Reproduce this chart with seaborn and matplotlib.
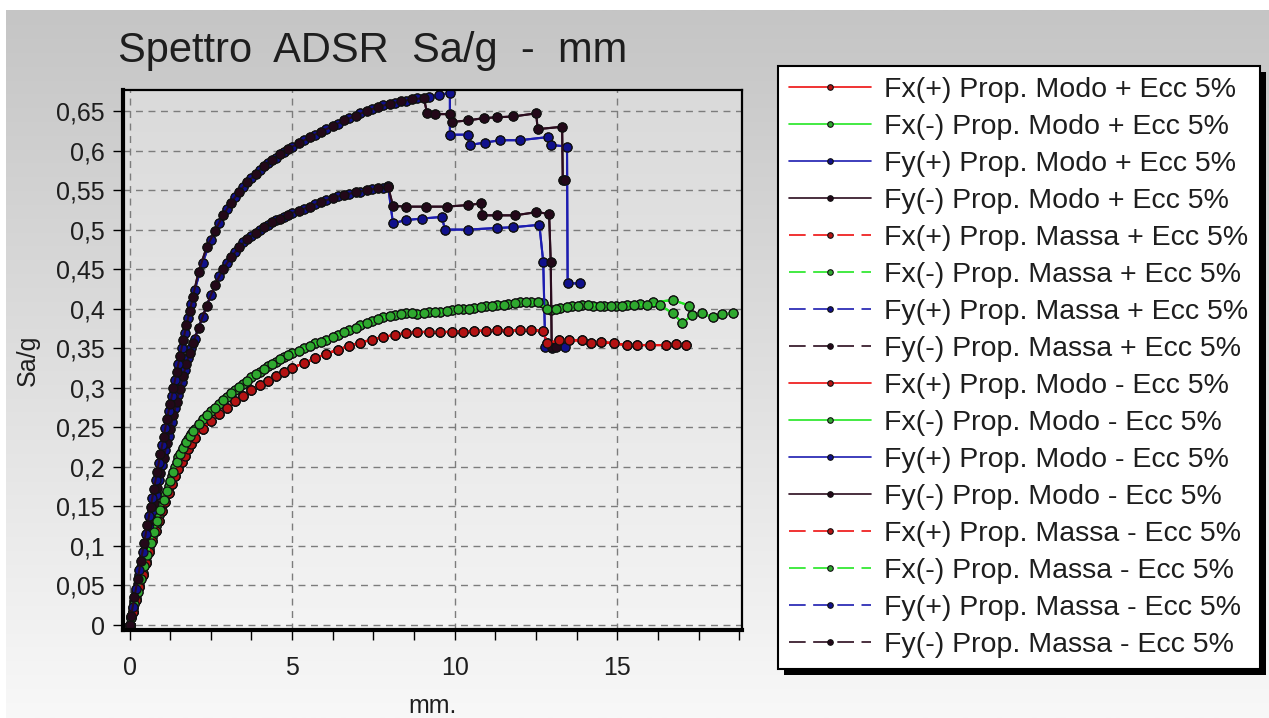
import numpy as np
import pandas as pd
import matplotlib
matplotlib.use("Agg")
import matplotlib.pyplot as plt
import seaborn as sns
from matplotlib.ticker import MultipleLocator, FixedLocator, FuncFormatter
from matplotlib.patches import Rectangle
from matplotlib.lines import Line2D
from matplotlib.colors import LinearSegmentedColormap

# ---------------- data ----------------
TITLE = "Spettro  ADSR  Sa/g  -  mm"
X_LABEL = "mm."
Y_LABEL = "Sa/g"
X_TICKS = [0, 5, 10, 15]
Y_TICKS = [0, 0.05, 0.1, 0.15, 0.2, 0.25, 0.3, 0.35, 0.4, 0.45, 0.5, 0.55, 0.6, 0.65]

# Fx(+) curve (red)
FX_POS_X = [0, 0.1, 0.2, 0.3, 0.4, 0.5, 0.6, 0.7, 0.8, 0.9, 1.0, 1.1, 1.2, 1.3, 1.4, 1.5, 1.6, 1.7, 1.8, 1.9, 2.0,
            2.25, 2.5, 2.75, 3.0, 3.25, 3.5, 3.75, 4.0, 4.25, 4.5, 4.75, 5.0, 5.35, 5.7, 6.05, 6.4, 6.75, 7.1, 7.45,
            7.8, 8.15, 8.5, 8.85, 9.2, 9.55, 9.9, 10.25, 10.6, 10.95, 11.3, 11.65, 12.0, 12.35, 12.7, 12.85, 13.2,
            13.5, 13.9, 14.2, 14.5, 14.9, 15.3, 15.6, 16.0, 16.5, 16.8, 17.1]
FX_POS_Y = [0, 0.016, 0.032, 0.048, 0.063, 0.078, 0.092, 0.106, 0.119, 0.132, 0.144, 0.156, 0.167, 0.178, 0.188,
            0.197, 0.206, 0.214, 0.222, 0.229, 0.236, 0.248, 0.258, 0.267, 0.275, 0.283, 0.290, 0.297, 0.303, 0.309,
            0.315, 0.320, 0.325, 0.331, 0.337, 0.343, 0.348, 0.353, 0.357, 0.361, 0.364, 0.367, 0.369, 0.370, 0.371,
            0.370, 0.371, 0.371, 0.372, 0.372, 0.373, 0.372, 0.373, 0.373, 0.372, 0.356, 0.360, 0.360, 0.360, 0.357,
            0.358, 0.356, 0.354, 0.354, 0.354, 0.354, 0.355, 0.354]

# Fx(-) curve (green), Modo variant
FX_NEG_MODO_X = [0, 0.1, 0.2, 0.3, 0.4, 0.5, 0.6, 0.7, 0.8, 0.9, 1.0, 1.1, 1.2, 1.3, 1.4, 1.5, 1.6, 1.7, 1.8, 1.9,
                 2.0, 2.25, 2.5, 2.75, 3.0, 3.25, 3.5, 3.75, 4.0, 4.25, 4.5, 4.75, 5.0, 5.35, 5.7, 6.05, 6.4, 6.75,
                 7.1, 7.45, 7.8, 8.15, 8.5, 8.85, 9.2, 9.55, 9.9, 10.25, 10.6, 10.95, 11.3, 11.65, 12.0, 12.35, 12.7,
                 12.95, 13.25, 13.6, 13.9, 14.25, 14.6, 14.95, 15.3, 15.7, 16.1, 16.7, 17.2]
FX_NEG_MODO_Y = [0, 0.017, 0.034, 0.050, 0.066, 0.081, 0.096, 0.111, 0.125, 0.139, 0.152, 0.164, 0.176, 0.188,
                 0.200, 0.212, 0.220, 0.228, 0.235, 0.242, 0.248, 0.260, 0.270, 0.279, 0.288, 0.297, 0.305, 0.313,
                 0.320, 0.327, 0.333, 0.339, 0.344, 0.350, 0.356, 0.361, 0.367, 0.373, 0.379, 0.384, 0.389, 0.392,
                 0.394, 0.393, 0.396, 0.396, 0.398, 0.399, 0.401, 0.404, 0.405, 0.406, 0.408, 0.409, 0.407, 0.398,
                 0.401, 0.403, 0.405, 0.404, 0.403, 0.404, 0.405, 0.406, 0.408, 0.411, 0.404]

# Fx(-) curve (green), Massa variant
FX_NEG_MASSA_X = [0, 0.05, 0.15, 0.25, 0.35, 0.45, 0.55, 0.65, 0.75, 0.85, 0.95, 1.05, 1.15, 1.25, 1.35, 1.45,
                  1.55, 1.65, 1.75, 1.85, 1.95, 2.125, 2.375, 2.625, 2.875, 3.125, 3.375, 3.625, 3.875, 4.125,
                  4.375, 4.625, 4.875, 5.2, 5.55, 5.9, 6.25, 6.6, 6.95, 7.3, 7.65, 8.0, 8.35, 8.7, 9.05, 9.4, 9.75,
                  10.1, 10.45, 10.8, 11.15, 11.5, 11.85, 12.2, 12.55, 12.85, 13.1, 13.45, 13.8, 14.1, 14.45, 14.8,
                  15.15, 15.5, 15.9, 16.3, 16.7, 17.0, 17.3, 17.6, 17.95, 18.2, 18.55]
FX_NEG_MASSA_Y = [0, 0.009, 0.026, 0.042, 0.058, 0.074, 0.089, 0.104, 0.118, 0.132, 0.146, 0.158, 0.170, 0.182,
                  0.194, 0.206, 0.216, 0.224, 0.232, 0.239, 0.245, 0.254, 0.265, 0.275, 0.284, 0.293, 0.301, 0.309,
                  0.317, 0.324, 0.330, 0.336, 0.342, 0.347, 0.353, 0.358, 0.364, 0.370, 0.376, 0.382, 0.387, 0.391,
                  0.393, 0.394, 0.395, 0.396, 0.397, 0.399, 0.400, 0.402, 0.404, 0.405, 0.407, 0.408, 0.408, 0.400,
                  0.399, 0.402, 0.404, 0.405, 0.404, 0.403, 0.404, 0.405, 0.405, 0.405, 0.394, 0.382, 0.392, 0.394,
                  0.389, 0.393, 0.394]

# Fy(+) Modo curve (blue, lower family)
FY_POS_MODO_X = [0, 0.1, 0.2, 0.3, 0.4, 0.5, 0.6, 0.7, 0.8, 0.9, 1.0, 1.1, 1.2, 1.3, 1.4, 1.5, 1.6, 1.7, 1.8, 1.9,
                 2.0, 2.25, 2.5, 2.75, 3.0, 3.25, 3.5, 3.75, 4.0, 4.25, 4.5, 4.75, 5.0, 5.35, 5.7, 6.05, 6.4, 6.75,
                 7.1, 7.45, 7.8, 7.95, 8.1, 8.5, 9.0, 9.6, 9.7, 10.4, 11.3, 11.8, 12.6, 12.72, 12.78, 13.0, 13.4]
FY_POS_MODO_Y = [0, 0.021, 0.042, 0.063, 0.084, 0.104, 0.124, 0.144, 0.164, 0.183, 0.202, 0.221, 0.239, 0.257,
                 0.274, 0.291, 0.307, 0.322, 0.337, 0.350, 0.362, 0.390, 0.417, 0.441, 0.458, 0.472, 0.484, 0.492,
                 0.499, 0.506, 0.512, 0.516, 0.521, 0.526, 0.532, 0.537, 0.542, 0.545, 0.548, 0.551, 0.553, 0.555,
                 0.508, 0.512, 0.514, 0.516, 0.500, 0.500, 0.502, 0.503, 0.506, 0.459, 0.352, 0.350, 0.352]

# Fy(-) Modo curve (dark, lower family)
FY_NEG_MODO_X = [0, 0.05, 0.15, 0.25, 0.35, 0.45, 0.55, 0.65, 0.75, 0.85, 0.95, 1.05, 1.15, 1.25, 1.35, 1.45,
                 1.55, 1.65, 1.75, 1.85, 1.95, 2.125, 2.375, 2.625, 2.875, 3.125, 3.375, 3.625, 3.875, 4.125,
                 4.375, 4.625, 4.875, 5.2, 5.55, 5.9, 6.25, 6.6, 6.95, 7.3, 7.65, 7.95, 8.1, 8.5, 9.1, 9.75, 10.4,
                 10.8, 10.85, 11.3, 11.85, 12.5, 12.9, 12.95, 12.98, 13.1]
FY_NEG_MODO_Y = [0, 0.010, 0.031, 0.052, 0.073, 0.094, 0.114, 0.134, 0.154, 0.173, 0.192, 0.211, 0.230, 0.248,
                 0.265, 0.282, 0.299, 0.315, 0.330, 0.344, 0.356, 0.376, 0.404, 0.430, 0.450, 0.465, 0.478, 0.488,
                 0.496, 0.503, 0.509, 0.514, 0.519, 0.524, 0.529, 0.535, 0.540, 0.544, 0.547, 0.550, 0.552, 0.554,
                 0.530, 0.529, 0.529, 0.529, 0.531, 0.533, 0.518, 0.518, 0.518, 0.522, 0.520, 0.459, 0.352, 0.352]

# Fy(+) Massa curve (blue, upper family)
FY_POS_MASSA_X = [0, 0.1, 0.2, 0.3, 0.4, 0.5, 0.6, 0.7, 0.8, 0.9, 1.0, 1.1, 1.2, 1.3, 1.4, 1.5, 1.6, 1.7, 1.8, 1.9,
                  2.0, 2.25, 2.5, 2.75, 3.0, 3.25, 3.5, 3.75, 4.0, 4.25, 4.5, 4.75, 5.0, 5.35, 5.7, 6.05, 6.4, 6.75,
                  7.1, 7.45, 7.8, 8.15, 8.5, 8.85, 9.2, 9.5, 9.85, 9.85, 10.4, 10.46, 10.92, 11.4, 12.0, 12.87,
                  12.97, 13.45, 13.47, 13.85]
FY_POS_MASSA_Y = [0, 0.023, 0.046, 0.069, 0.092, 0.115, 0.138, 0.160, 0.183, 0.205, 0.227, 0.249, 0.270, 0.290,
                  0.310, 0.330, 0.350, 0.369, 0.388, 0.406, 0.423, 0.458, 0.487, 0.508, 0.526, 0.541, 0.554, 0.565,
                  0.575, 0.584, 0.591, 0.598, 0.605, 0.613, 0.620, 0.627, 0.634, 0.641, 0.647, 0.652, 0.657, 0.660,
                  0.663, 0.666, 0.668, 0.670, 0.673, 0.620, 0.620, 0.607, 0.610, 0.613, 0.613, 0.617, 0.607, 0.605,
                  0.432, 0.432]

# Fy(-) Massa curve (dark, upper family)
FY_NEG_MASSA_X = [0, 0.05, 0.15, 0.25, 0.35, 0.45, 0.55, 0.65, 0.75, 0.85, 0.95, 1.05, 1.15, 1.25, 1.35, 1.45,
                  1.55, 1.65, 1.75, 1.85, 1.95, 2.125, 2.375, 2.625, 2.875, 3.125, 3.375, 3.625, 3.875, 4.125,
                  4.375, 4.625, 4.875, 5.2, 5.55, 5.9, 6.25, 6.6, 6.95, 7.3, 7.65, 8.0, 8.35, 8.7, 9.05, 9.15, 9.4,
                  9.85, 9.9, 10.4, 10.9, 11.3, 11.8, 12.5, 12.55, 13.3, 13.32, 13.4]
FY_NEG_MASSA_Y = [0, 0.012, 0.035, 0.058, 0.081, 0.104, 0.127, 0.149, 0.172, 0.194, 0.216, 0.238, 0.260, 0.280,
                  0.300, 0.320, 0.340, 0.360, 0.379, 0.397, 0.415, 0.447, 0.478, 0.498, 0.518, 0.534, 0.548, 0.560,
                  0.570, 0.580, 0.588, 0.595, 0.602, 0.609, 0.617, 0.624, 0.631, 0.638, 0.644, 0.650, 0.655, 0.659,
                  0.662, 0.665, 0.666, 0.647, 0.646, 0.646, 0.636, 0.638, 0.641, 0.642, 0.643, 0.647, 0.627, 0.630,
                  0.563, 0.563]

SERIES_LABELS = [
    "Fx(+) Prop. Modo + Ecc 5%", "Fx(-) Prop. Modo + Ecc 5%",
    "Fy(+) Prop. Modo + Ecc 5%", "Fy(-) Prop. Modo + Ecc 5%",
    "Fx(+) Prop. Massa + Ecc 5%", "Fx(-) Prop. Massa + Ecc 5%",
    "Fy(+) Prop. Massa + Ecc 5%", "Fy(-) Prop. Massa + Ecc 5%",
    "Fx(+) Prop. Modo - Ecc 5%", "Fx(-) Prop. Modo - Ecc 5%",
    "Fy(+) Prop. Modo - Ecc 5%", "Fy(-) Prop. Modo - Ecc 5%",
    "Fx(+) Prop. Massa - Ecc 5%", "Fx(-) Prop. Massa - Ecc 5%",
    "Fy(+) Prop. Massa - Ecc 5%", "Fy(-) Prop. Massa - Ecc 5%",
]

CURVES = {
    ("Fx(+)", "Modo"): (FX_POS_X, FX_POS_Y),
    ("Fx(-)", "Modo"): (FX_NEG_MODO_X, FX_NEG_MODO_Y),
    ("Fy(+)", "Modo"): (FY_POS_MODO_X, FY_POS_MODO_Y),
    ("Fy(-)", "Modo"): (FY_NEG_MODO_X, FY_NEG_MODO_Y),
    ("Fx(+)", "Massa"): (FX_POS_X, FX_POS_Y),
    ("Fx(-)", "Massa"): (FX_NEG_MASSA_X, FX_NEG_MASSA_Y),
    ("Fy(+)", "Massa"): (FY_POS_MASSA_X, FY_POS_MASSA_Y),
    ("Fy(-)", "Massa"): (FY_NEG_MASSA_X, FY_NEG_MASSA_Y),
}

LINE_COLORS = {"Fx(+)": "#ee1111", "Fx(-)": "#22e622", "Fy(+)": "#1c1cb0", "Fy(-)": "#2b0c1e"}
FACE_COLORS = {"Fx(+)": "#b41212", "Fx(-)": "#2fa82f", "Fy(+)": "#10108c", "Fy(-)": "#230819"}

# ---------------- style ----------------
sns.set_theme(style="white")
plt.rcParams["font.family"] = ["Liberation Sans", "DejaVu Sans"]
plt.rcParams["axes.unicode_minus"] = False

W, H = 1269, 718
fig = plt.figure(figsize=(W / 100, H / 100), dpi=100, facecolor="white")

# figure background gradient panel
bg = fig.add_axes([6 / W, 0, 1 - 6 / W, 1 - 10 / H], zorder=-10)
grad = np.linspace(0, 1, 256).reshape(-1, 1)
cm_fig = LinearSegmentedColormap.from_list("figbg", ["#c5c5c5", "#f8f8f8"])
bg.imshow(grad, aspect="auto", cmap=cm_fig, extent=[0, 1, 0, 1], origin="upper")
bg.set_axis_off()

L, R, T, B = 123, 742, 90, 630
ax = fig.add_axes([L / W, 1 - B / H, (R - L) / W, (B - T) / H])
ax.set_facecolor("none")

XMIN, XMAX = -0.2, 18.83
YMIN, YMAX = -0.0063, 0.6765
cm_ax = LinearSegmentedColormap.from_list("axbg", ["#dadada", "#f4f4f4"])
ax.imshow(grad, aspect="auto", cmap=cm_ax, extent=[XMIN, XMAX, YMIN, YMAX], origin="upper", zorder=0)

legend_handles = []
for label in SERIES_LABELS:
    direction = label.split(" ")[0]
    dist = "Massa" if "Massa" in label else "Modo"
    xs, ys = CURVES[(direction, dist)]
    sns.lineplot(x=xs, y=ys, ax=ax, sort=False, estimator=None, legend=False,
                 color=LINE_COLORS[direction], linewidth=1.5, linestyle="-",
                 marker="o", markersize=6.5, markerfacecolor=FACE_COLORS[direction],
                 markeredgecolor="#101010", markeredgewidth=0.9, label=label, zorder=2)
    legend_handles.append(Line2D([], [], color=LINE_COLORS[direction], linewidth=1.2,
                                 linestyle=(0, (10, 4.5)) if dist == "Massa" else "-",
                                 marker="o", markersize=4, markerfacecolor=FACE_COLORS[direction],
                                 markeredgecolor="#101010", markeredgewidth=0.8))

ax.set_xlim(XMIN, XMAX)
ax.set_ylim(YMIN, YMAX)
ax.xaxis.set_major_locator(FixedLocator(X_TICKS))
ax.xaxis.set_minor_locator(MultipleLocator(1.25))
ax.yaxis.set_major_locator(FixedLocator(Y_TICKS))


def comma_fmt(v, pos=None):
    s = f"{v:.2f}".rstrip("0").rstrip(".")
    return s.replace(".", ",")


ax.yaxis.set_major_formatter(FuncFormatter(comma_fmt))
ax.xaxis.set_major_formatter(FuncFormatter(lambda v, p: f"{v:g}"))

ax.set_axisbelow(True)
ax.grid(True, which="major", color="#7c7c7c", linestyle=(0, (5, 4)), linewidth=1.0)

ax.tick_params(axis="both", which="both", direction="out", length=7, width=1.0, color="black",
               labelsize=18, labelcolor="#1e1e1e")
ax.tick_params(axis="x", which="both", pad=12, bottom=True)
ax.tick_params(axis="y", which="major", pad=6, left=True)

for side in ["left", "bottom"]:
    ax.spines[side].set_linewidth(3.0)
    ax.spines[side].set_color("black")
for side in ["top", "right"]:
    ax.spines[side].set_linewidth(1.6)
    ax.spines[side].set_color("black")
    ax.spines[side].set_visible(True)

ax.set_xlabel(X_LABEL, fontsize=18, color="#1e1e1e")
ax.xaxis.set_label_coords(0.5, -(694 - B) / (B - T))
ax.set_ylabel(Y_LABEL, fontsize=18, color="#1e1e1e")
ax.yaxis.set_label_coords(-(L - 40) / (R - L), 0.5)

fig.text(118 / W, 1 - 62 / H, TITLE, fontsize=30, ha="left", va="baseline", color="#1e1e1e")

leg = fig.legend(legend_handles, SERIES_LABELS, loc="upper left",
                 bbox_to_anchor=(778 / W, 1 - 66 / H), bbox_transform=fig.transFigure,
                 frameon=True, fancybox=False, edgecolor="black", facecolor="white", framealpha=1,
                 fontsize=20.5, handlelength=2.88, handletextpad=0.45, labelspacing=0.385,
                 borderpad=0.4, borderaxespad=0)
leg.get_frame().set_linewidth(1.5)
for t in leg.get_texts():
    t.set_color("#1e1e1e")

fig.canvas.draw()
bb = leg.get_window_extent()
off = 6
shadow = Rectangle(((bb.x0 + off) / W, (bb.y0 - off) / H), bb.width / W, bb.height / H,
                   transform=fig.transFigure, facecolor="black", edgecolor="none", zorder=4)
fig.add_artist(shadow)

fig.savefig("out.png", dpi=100, facecolor=fig.get_facecolor())
